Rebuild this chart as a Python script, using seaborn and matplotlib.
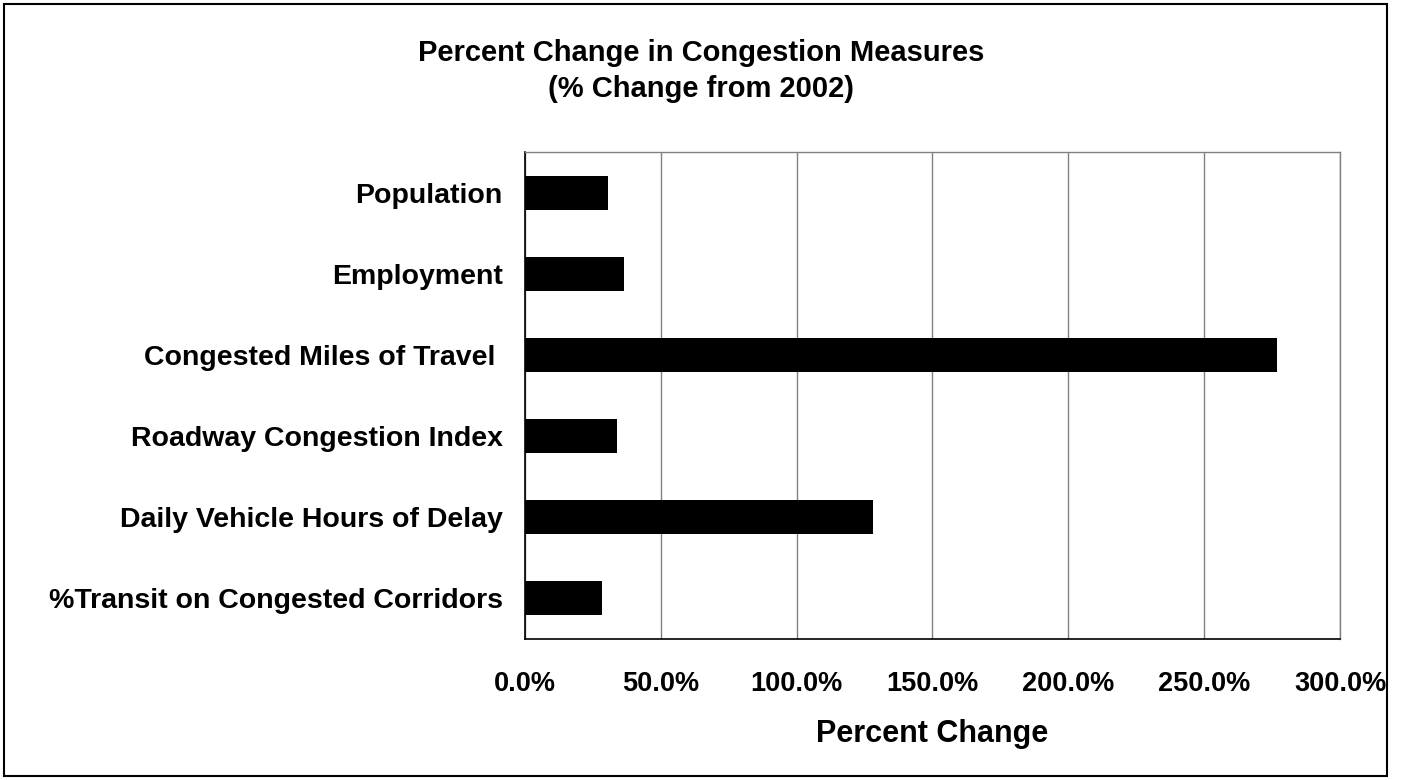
import numpy as np
import pandas as pd
import matplotlib
matplotlib.use('Agg')
import matplotlib.pyplot as plt
import seaborn as sns
from matplotlib.patches import Rectangle
from matplotlib.ticker import FuncFormatter, FixedLocator

# ─── Data ─────────────────────────────────────────────────────────────────────

categories = ['Population', 'Employment', 'Congested Miles of Travel ',
              'Roadway Congestion Index', 'Daily Vehicle Hours of Delay',
              '%Transit on Congested Corridors']
pct_change = [30.4, 36.3, 276.7, 34.0, 128.2, 28.3]
x_ticks = [0, 50, 100, 150, 200, 250, 300]

df = pd.DataFrame({'measure': categories, 'change': pct_change})

# ─── Plot ─────────────────────────────────────────────────────────────────────

sns.set_style('white')
plt.rcParams['font.family'] = ['Liberation Sans', 'DejaVu Sans']
plt.rcParams['font.weight'] = 'bold'
plt.rcParams['text.color'] = 'black'
plt.rcParams['xtick.color'] = 'black'
plt.rcParams['ytick.color'] = 'black'
plt.rcParams['axes.labelcolor'] = 'black'

fig = plt.figure(figsize=(14.02, 7.8), dpi=100)
ax = fig.add_axes([525 / 1402, 1 - 639 / 780, (1340 - 525) / 1402, (639 - 152) / 780])

sns.barplot(data=df, x='change', y='measure', orient='h', color='black',
            width=0.42, saturation=1, edgecolor='none', linewidth=0, ax=ax)

ax.set_xlim(0, 300)
ax.set_ylim(len(categories) - 0.5, -0.5)
ax.xaxis.set_major_locator(FixedLocator(x_ticks))
ax.xaxis.set_major_formatter(FuncFormatter(lambda v, p: f'{v:.1f}%'))
ax.grid(axis='x', color='#808080', linewidth=1)
ax.set_axisbelow(True)

# category labels between boundary ticks
ax.set_yticks(np.arange(len(categories) + 1) - 0.5)
ax.set_yticklabels([])
ax.set_yticks(np.arange(len(categories)), minor=True)
ax.set_yticklabels(categories, minor=True, fontsize=20.5, fontweight='bold')
ax.tick_params(axis='y', which='major', length=6.5, width=1, color='#808080', direction='out')
ax.tick_params(axis='y', which='minor', length=0, pad=16, labelcolor='black')
ax.tick_params(axis='x', length=3, width=1, color='#808080', pad=20, labelsize=19.5,
               labelcolor='black')
for lab in ax.get_xticklabels():
    lab.set_fontweight('bold')

for side in ['left', 'bottom']:
    ax.spines[side].set_color('black')
    ax.spines[side].set_linewidth(1.2)
for side in ['top', 'right']:
    ax.spines[side].set_color('#808080')
    ax.spines[side].set_linewidth(1)

ax.set_xlabel('Percent Change', fontsize=22, fontweight='bold', labelpad=16, color='black')
ax.set_ylabel('')

fig.text(0.5, 1 - 53 / 780, 'Percent Change in Congestion Measures',
         ha='center', va='center', fontsize=21, fontweight='bold')
fig.text(0.5, 1 - 89 / 780, '(% Change from 2002)',
         ha='center', va='center', fontsize=21, fontweight='bold')

# outer border
fig.patches.append(Rectangle((4 / 1402, 4 / 780), (1387 - 4) / 1402, (776 - 4) / 780,
                             transform=fig.transFigure, fill=False,
                             edgecolor='black', linewidth=1.5))

fig.savefig('out.png', dpi=100)
plt.close(fig)
